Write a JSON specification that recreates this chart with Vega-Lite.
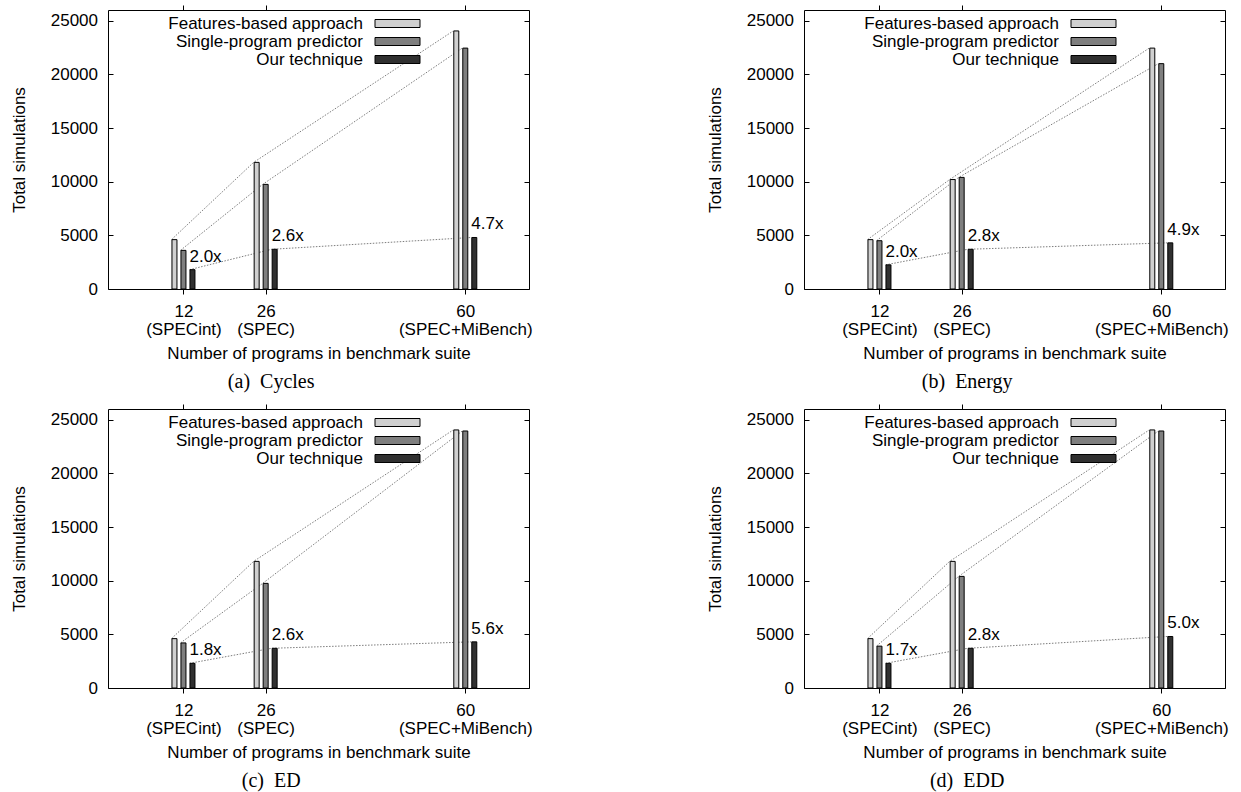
{
  "$schema": "https://vega.github.io/schema/vega-lite/v6.json",
  "autosize": {"type": "pad"},
  "padding": {"left": 9, "top": 4, "right": 5, "bottom": 5},
  "data": {"values": [
    {"panel": "a", "n": 12, "series": "Features-based approach", "value": 4600},
    {"panel": "a", "n": 12, "series": "Single-program predictor", "value": 3600},
    {"panel": "a", "n": 12, "series": "Our technique", "value": 1800, "label": "2.0x"},
    {"panel": "a", "n": 26, "series": "Features-based approach", "value": 11800},
    {"panel": "a", "n": 26, "series": "Single-program predictor", "value": 9750},
    {"panel": "a", "n": 26, "series": "Our technique", "value": 3700, "label": "2.6x"},
    {"panel": "a", "n": 60, "series": "Features-based approach", "value": 24050},
    {"panel": "a", "n": 60, "series": "Single-program predictor", "value": 22450},
    {"panel": "a", "n": 60, "series": "Our technique", "value": 4800, "label": "4.7x"},
    {"panel": "b", "n": 12, "series": "Features-based approach", "value": 4600},
    {"panel": "b", "n": 12, "series": "Single-program predictor", "value": 4500},
    {"panel": "b", "n": 12, "series": "Our technique", "value": 2250, "label": "2.0x"},
    {"panel": "b", "n": 26, "series": "Features-based approach", "value": 10200},
    {"panel": "b", "n": 26, "series": "Single-program predictor", "value": 10400},
    {"panel": "b", "n": 26, "series": "Our technique", "value": 3700, "label": "2.8x"},
    {"panel": "b", "n": 60, "series": "Features-based approach", "value": 22450},
    {"panel": "b", "n": 60, "series": "Single-program predictor", "value": 21000},
    {"panel": "b", "n": 60, "series": "Our technique", "value": 4300, "label": "4.9x"},
    {"panel": "c", "n": 12, "series": "Features-based approach", "value": 4600},
    {"panel": "c", "n": 12, "series": "Single-program predictor", "value": 4200},
    {"panel": "c", "n": 12, "series": "Our technique", "value": 2300, "label": "1.8x"},
    {"panel": "c", "n": 26, "series": "Features-based approach", "value": 11800},
    {"panel": "c", "n": 26, "series": "Single-program predictor", "value": 9750},
    {"panel": "c", "n": 26, "series": "Our technique", "value": 3700, "label": "2.6x"},
    {"panel": "c", "n": 60, "series": "Features-based approach", "value": 24050},
    {"panel": "c", "n": 60, "series": "Single-program predictor", "value": 23950},
    {"panel": "c", "n": 60, "series": "Our technique", "value": 4300, "label": "5.6x"},
    {"panel": "d", "n": 12, "series": "Features-based approach", "value": 4600},
    {"panel": "d", "n": 12, "series": "Single-program predictor", "value": 3900},
    {"panel": "d", "n": 12, "series": "Our technique", "value": 2300, "label": "1.7x"},
    {"panel": "d", "n": 26, "series": "Features-based approach", "value": 11800},
    {"panel": "d", "n": 26, "series": "Single-program predictor", "value": 10400},
    {"panel": "d", "n": 26, "series": "Our technique", "value": 3700, "label": "2.8x"},
    {"panel": "d", "n": 60, "series": "Features-based approach", "value": 24050},
    {"panel": "d", "n": 60, "series": "Single-program predictor", "value": 23950},
    {"panel": "d", "n": 60, "series": "Our technique", "value": 4800, "label": "5.0x"}
  ]},
  "columns": 2,
  "spacing": {"row": 120, "column": 275},
  "bounds": "flush",
  "resolve": {"scale": {"color": "independent"}, "legend": {"color": "independent"}},
  "concat": [
    {
      "width": 421, "height": 279,
      "title": {"text": "(a)\u00a0\u00a0Cycles"},
      "transform": [{"filter": "datum.panel == 'a'"}],
      "encoding": {
        "x": {"field": "n", "type": "quantitative", "scale": {"domain": [0, 70]}, "axis": null},
        "y": {"field": "value", "type": "quantitative", "scale": {"domain": [0, 26000]}, "axis": null}
      },
      "layer": [
        {"transform": [{"filter": "datum.series == 'Features-based approach'"}],
         "mark": {"type": "line", "xOffset": -12, "stroke": "#6e6e6e", "strokeWidth": 0.9, "strokeDash": [1.5, 1.5]},
         "encoding": {
           "x": {"field": "n", "type": "quantitative", "scale": {"domain": [0, 70]}, "axis": {"orient": "bottom", "values": [12, 26, 60], "labelExpr": "datum.value == 12 ? ['12', '(SPECint)'] : datum.value == 26 ? ['26', '(SPEC)'] : ['60', '(SPEC+MiBench)']", "title": "Number of programs in benchmark suite"}},
           "y": {"field": "value", "type": "quantitative", "scale": {"domain": [0, 26000]}, "axis": {"orient": "left", "values": [0, 5000, 10000, 15000, 20000, 25000], "format": "d", "title": "Total simulations"}}
         }},
        {"transform": [{"filter": "datum.series == 'Single-program predictor'"}],
         "mark": {"type": "line", "xOffset": -3, "stroke": "#6e6e6e", "strokeWidth": 0.9, "strokeDash": [1.5, 1.5]}},
        {"transform": [{"filter": "datum.series == 'Our technique'"}],
         "mark": {"type": "line", "xOffset": 6, "stroke": "#6e6e6e", "strokeWidth": 0.9, "strokeDash": [1.5, 1.5]}},
        {"transform": [{"filter": "datum.series == 'Features-based approach'"}],
         "mark": {"type": "bar", "width": 5, "xOffset": -9, "stroke": "#000", "strokeWidth": 1},
         "encoding": {
           "x": {"field": "n", "type": "quantitative", "scale": {"domain": [0, 70]}, "axis": {"orient": "top", "values": [12, 26, 60], "labels": false, "title": null}},
           "y": {"field": "value", "type": "quantitative", "stack": null, "scale": {"domain": [0, 26000]}, "axis": {"orient": "right", "values": [0, 5000, 10000, 15000, 20000, 25000], "labels": false, "title": null}},
           "color": {"field": "series", "type": "nominal", "scale": {"domain": ["Features-based approach", "Single-program predictor", "Our technique"], "range": ["#d0d0d0", "#7f7f7f", "#303030"]}, "legend": {"title": null}}
         }},
        {"transform": [{"filter": "datum.series == 'Single-program predictor'"}],
         "mark": {"type": "bar", "width": 5, "xOffset": 0, "stroke": "#000", "strokeWidth": 1},
         "encoding": {
           "y": {"field": "value", "type": "quantitative", "stack": null, "scale": {"domain": [0, 26000]}, "axis": null},
           "color": {"field": "series", "type": "nominal", "scale": {"domain": ["Features-based approach", "Single-program predictor", "Our technique"], "range": ["#d0d0d0", "#7f7f7f", "#303030"]}, "legend": {"title": null}}
         }},
        {"transform": [{"filter": "datum.series == 'Our technique'"}],
         "mark": {"type": "bar", "width": 5, "xOffset": 9, "stroke": "#000", "strokeWidth": 1},
         "encoding": {
           "y": {"field": "value", "type": "quantitative", "stack": null, "scale": {"domain": [0, 26000]}, "axis": null},
           "color": {"field": "series", "type": "nominal", "scale": {"domain": ["Features-based approach", "Single-program predictor", "Our technique"], "range": ["#d0d0d0", "#7f7f7f", "#303030"]}, "legend": {"title": null}}
         }},
        {"transform": [{"filter": "datum.series == 'Our technique'"}],
         "mark": {"type": "text", "xOffset": 6, "align": "left", "baseline": "alphabetic", "dy": -8, "fontSize": 17, "color": "#000"},
         "encoding": {"text": {"field": "label"}}}
      ],
      "resolve": {"axis": {"x": "independent", "y": "independent"}}
    },
    {
      "width": 421, "height": 279,
      "title": {"text": "(b)\u00a0\u00a0Energy"},
      "transform": [{"filter": "datum.panel == 'b'"}],
      "encoding": {
        "x": {"field": "n", "type": "quantitative", "scale": {"domain": [0, 70]}, "axis": null},
        "y": {"field": "value", "type": "quantitative", "scale": {"domain": [0, 26000]}, "axis": null}
      },
      "layer": [
        {"transform": [{"filter": "datum.series == 'Features-based approach'"}],
         "mark": {"type": "line", "xOffset": -12, "stroke": "#6e6e6e", "strokeWidth": 0.9, "strokeDash": [1.5, 1.5]},
         "encoding": {
           "x": {"field": "n", "type": "quantitative", "scale": {"domain": [0, 70]}, "axis": {"orient": "bottom", "values": [12, 26, 60], "labelExpr": "datum.value == 12 ? ['12', '(SPECint)'] : datum.value == 26 ? ['26', '(SPEC)'] : ['60', '(SPEC+MiBench)']", "title": "Number of programs in benchmark suite"}},
           "y": {"field": "value", "type": "quantitative", "scale": {"domain": [0, 26000]}, "axis": {"orient": "left", "values": [0, 5000, 10000, 15000, 20000, 25000], "format": "d", "title": "Total simulations"}}
         }},
        {"transform": [{"filter": "datum.series == 'Single-program predictor'"}],
         "mark": {"type": "line", "xOffset": -3, "stroke": "#6e6e6e", "strokeWidth": 0.9, "strokeDash": [1.5, 1.5]}},
        {"transform": [{"filter": "datum.series == 'Our technique'"}],
         "mark": {"type": "line", "xOffset": 6, "stroke": "#6e6e6e", "strokeWidth": 0.9, "strokeDash": [1.5, 1.5]}},
        {"transform": [{"filter": "datum.series == 'Features-based approach'"}],
         "mark": {"type": "bar", "width": 5, "xOffset": -9, "stroke": "#000", "strokeWidth": 1},
         "encoding": {
           "x": {"field": "n", "type": "quantitative", "scale": {"domain": [0, 70]}, "axis": {"orient": "top", "values": [12, 26, 60], "labels": false, "title": null}},
           "y": {"field": "value", "type": "quantitative", "stack": null, "scale": {"domain": [0, 26000]}, "axis": {"orient": "right", "values": [0, 5000, 10000, 15000, 20000, 25000], "labels": false, "title": null}},
           "color": {"field": "series", "type": "nominal", "scale": {"domain": ["Features-based approach", "Single-program predictor", "Our technique"], "range": ["#d0d0d0", "#7f7f7f", "#303030"]}, "legend": {"title": null}}
         }},
        {"transform": [{"filter": "datum.series == 'Single-program predictor'"}],
         "mark": {"type": "bar", "width": 5, "xOffset": 0, "stroke": "#000", "strokeWidth": 1},
         "encoding": {
           "y": {"field": "value", "type": "quantitative", "stack": null, "scale": {"domain": [0, 26000]}, "axis": null},
           "color": {"field": "series", "type": "nominal", "scale": {"domain": ["Features-based approach", "Single-program predictor", "Our technique"], "range": ["#d0d0d0", "#7f7f7f", "#303030"]}, "legend": {"title": null}}
         }},
        {"transform": [{"filter": "datum.series == 'Our technique'"}],
         "mark": {"type": "bar", "width": 5, "xOffset": 9, "stroke": "#000", "strokeWidth": 1},
         "encoding": {
           "y": {"field": "value", "type": "quantitative", "stack": null, "scale": {"domain": [0, 26000]}, "axis": null},
           "color": {"field": "series", "type": "nominal", "scale": {"domain": ["Features-based approach", "Single-program predictor", "Our technique"], "range": ["#d0d0d0", "#7f7f7f", "#303030"]}, "legend": {"title": null}}
         }},
        {"transform": [{"filter": "datum.series == 'Our technique'"}],
         "mark": {"type": "text", "xOffset": 6, "align": "left", "baseline": "alphabetic", "dy": -8, "fontSize": 17, "color": "#000"},
         "encoding": {"text": {"field": "label"}}}
      ],
      "resolve": {"axis": {"x": "independent", "y": "independent"}}
    },
    {
      "width": 421, "height": 279,
      "title": {"text": "(c)\u00a0\u00a0ED"},
      "transform": [{"filter": "datum.panel == 'c'"}],
      "encoding": {
        "x": {"field": "n", "type": "quantitative", "scale": {"domain": [0, 70]}, "axis": null},
        "y": {"field": "value", "type": "quantitative", "scale": {"domain": [0, 26000]}, "axis": null}
      },
      "layer": [
        {"transform": [{"filter": "datum.series == 'Features-based approach'"}],
         "mark": {"type": "line", "xOffset": -12, "stroke": "#6e6e6e", "strokeWidth": 0.9, "strokeDash": [1.5, 1.5]},
         "encoding": {
           "x": {"field": "n", "type": "quantitative", "scale": {"domain": [0, 70]}, "axis": {"orient": "bottom", "values": [12, 26, 60], "labelExpr": "datum.value == 12 ? ['12', '(SPECint)'] : datum.value == 26 ? ['26', '(SPEC)'] : ['60', '(SPEC+MiBench)']", "title": "Number of programs in benchmark suite"}},
           "y": {"field": "value", "type": "quantitative", "scale": {"domain": [0, 26000]}, "axis": {"orient": "left", "values": [0, 5000, 10000, 15000, 20000, 25000], "format": "d", "title": "Total simulations"}}
         }},
        {"transform": [{"filter": "datum.series == 'Single-program predictor'"}],
         "mark": {"type": "line", "xOffset": -3, "stroke": "#6e6e6e", "strokeWidth": 0.9, "strokeDash": [1.5, 1.5]}},
        {"transform": [{"filter": "datum.series == 'Our technique'"}],
         "mark": {"type": "line", "xOffset": 6, "stroke": "#6e6e6e", "strokeWidth": 0.9, "strokeDash": [1.5, 1.5]}},
        {"transform": [{"filter": "datum.series == 'Features-based approach'"}],
         "mark": {"type": "bar", "width": 5, "xOffset": -9, "stroke": "#000", "strokeWidth": 1},
         "encoding": {
           "x": {"field": "n", "type": "quantitative", "scale": {"domain": [0, 70]}, "axis": {"orient": "top", "values": [12, 26, 60], "labels": false, "title": null}},
           "y": {"field": "value", "type": "quantitative", "stack": null, "scale": {"domain": [0, 26000]}, "axis": {"orient": "right", "values": [0, 5000, 10000, 15000, 20000, 25000], "labels": false, "title": null}},
           "color": {"field": "series", "type": "nominal", "scale": {"domain": ["Features-based approach", "Single-program predictor", "Our technique"], "range": ["#d0d0d0", "#7f7f7f", "#303030"]}, "legend": {"title": null}}
         }},
        {"transform": [{"filter": "datum.series == 'Single-program predictor'"}],
         "mark": {"type": "bar", "width": 5, "xOffset": 0, "stroke": "#000", "strokeWidth": 1},
         "encoding": {
           "y": {"field": "value", "type": "quantitative", "stack": null, "scale": {"domain": [0, 26000]}, "axis": null},
           "color": {"field": "series", "type": "nominal", "scale": {"domain": ["Features-based approach", "Single-program predictor", "Our technique"], "range": ["#d0d0d0", "#7f7f7f", "#303030"]}, "legend": {"title": null}}
         }},
        {"transform": [{"filter": "datum.series == 'Our technique'"}],
         "mark": {"type": "bar", "width": 5, "xOffset": 9, "stroke": "#000", "strokeWidth": 1},
         "encoding": {
           "y": {"field": "value", "type": "quantitative", "stack": null, "scale": {"domain": [0, 26000]}, "axis": null},
           "color": {"field": "series", "type": "nominal", "scale": {"domain": ["Features-based approach", "Single-program predictor", "Our technique"], "range": ["#d0d0d0", "#7f7f7f", "#303030"]}, "legend": {"title": null}}
         }},
        {"transform": [{"filter": "datum.series == 'Our technique'"}],
         "mark": {"type": "text", "xOffset": 6, "align": "left", "baseline": "alphabetic", "dy": -8, "fontSize": 17, "color": "#000"},
         "encoding": {"text": {"field": "label"}}}
      ],
      "resolve": {"axis": {"x": "independent", "y": "independent"}}
    },
    {
      "width": 421, "height": 279,
      "title": {"text": "(d)\u00a0\u00a0EDD"},
      "transform": [{"filter": "datum.panel == 'd'"}],
      "encoding": {
        "x": {"field": "n", "type": "quantitative", "scale": {"domain": [0, 70]}, "axis": null},
        "y": {"field": "value", "type": "quantitative", "scale": {"domain": [0, 26000]}, "axis": null}
      },
      "layer": [
        {"transform": [{"filter": "datum.series == 'Features-based approach'"}],
         "mark": {"type": "line", "xOffset": -12, "stroke": "#6e6e6e", "strokeWidth": 0.9, "strokeDash": [1.5, 1.5]},
         "encoding": {
           "x": {"field": "n", "type": "quantitative", "scale": {"domain": [0, 70]}, "axis": {"orient": "bottom", "values": [12, 26, 60], "labelExpr": "datum.value == 12 ? ['12', '(SPECint)'] : datum.value == 26 ? ['26', '(SPEC)'] : ['60', '(SPEC+MiBench)']", "title": "Number of programs in benchmark suite"}},
           "y": {"field": "value", "type": "quantitative", "scale": {"domain": [0, 26000]}, "axis": {"orient": "left", "values": [0, 5000, 10000, 15000, 20000, 25000], "format": "d", "title": "Total simulations"}}
         }},
        {"transform": [{"filter": "datum.series == 'Single-program predictor'"}],
         "mark": {"type": "line", "xOffset": -3, "stroke": "#6e6e6e", "strokeWidth": 0.9, "strokeDash": [1.5, 1.5]}},
        {"transform": [{"filter": "datum.series == 'Our technique'"}],
         "mark": {"type": "line", "xOffset": 6, "stroke": "#6e6e6e", "strokeWidth": 0.9, "strokeDash": [1.5, 1.5]}},
        {"transform": [{"filter": "datum.series == 'Features-based approach'"}],
         "mark": {"type": "bar", "width": 5, "xOffset": -9, "stroke": "#000", "strokeWidth": 1},
         "encoding": {
           "x": {"field": "n", "type": "quantitative", "scale": {"domain": [0, 70]}, "axis": {"orient": "top", "values": [12, 26, 60], "labels": false, "title": null}},
           "y": {"field": "value", "type": "quantitative", "stack": null, "scale": {"domain": [0, 26000]}, "axis": {"orient": "right", "values": [0, 5000, 10000, 15000, 20000, 25000], "labels": false, "title": null}},
           "color": {"field": "series", "type": "nominal", "scale": {"domain": ["Features-based approach", "Single-program predictor", "Our technique"], "range": ["#d0d0d0", "#7f7f7f", "#303030"]}, "legend": {"title": null}}
         }},
        {"transform": [{"filter": "datum.series == 'Single-program predictor'"}],
         "mark": {"type": "bar", "width": 5, "xOffset": 0, "stroke": "#000", "strokeWidth": 1},
         "encoding": {
           "y": {"field": "value", "type": "quantitative", "stack": null, "scale": {"domain": [0, 26000]}, "axis": null},
           "color": {"field": "series", "type": "nominal", "scale": {"domain": ["Features-based approach", "Single-program predictor", "Our technique"], "range": ["#d0d0d0", "#7f7f7f", "#303030"]}, "legend": {"title": null}}
         }},
        {"transform": [{"filter": "datum.series == 'Our technique'"}],
         "mark": {"type": "bar", "width": 5, "xOffset": 9, "stroke": "#000", "strokeWidth": 1},
         "encoding": {
           "y": {"field": "value", "type": "quantitative", "stack": null, "scale": {"domain": [0, 26000]}, "axis": null},
           "color": {"field": "series", "type": "nominal", "scale": {"domain": ["Features-based approach", "Single-program predictor", "Our technique"], "range": ["#d0d0d0", "#7f7f7f", "#303030"]}, "legend": {"title": null}}
         }},
        {"transform": [{"filter": "datum.series == 'Our technique'"}],
         "mark": {"type": "text", "xOffset": 6, "align": "left", "baseline": "alphabetic", "dy": -8, "fontSize": 17, "color": "#000"},
         "encoding": {"text": {"field": "label"}}}
      ],
      "resolve": {"axis": {"x": "independent", "y": "independent"}}
    }
  ],
  "config": {
    "font": "Liberation Sans",
    "view": {"stroke": "#000", "strokeWidth": 1},
    "axis": {"domain": false, "grid": false, "labelFont": "Liberation Sans", "titleFont": "Liberation Sans", "labelFontSize": 17, "titleFontSize": 17, "titleFontWeight": "normal", "labelColor": "#000", "titleColor": "#000", "tickColor": "#000", "tickWidth": 1, "labelOverlap": false},
    "axisLeft": {"tickSize": -5, "labelPadding": 15.5, "titlePadding": 22},
    "axisRight": {"tickSize": -5},
    "axisBottom": {"tickSize": 5, "labelPadding": 9, "labelLineHeight": 18, "titlePadding": 8},
    "axisTop": {"tickSize": 5},
    "legend": {"orient": "none", "legendX": 281, "legendY": 5, "padding": 0, "symbolType": "M-5.625,-1H5.625V1H-5.625Z", "symbolSize": 64, "symbolStrokeColor": "#000", "symbolStrokeWidth": 1, "symbolOpacity": 1, "labelAlign": "right", "labelOffset": -43, "labelFontSize": 17, "labelFont": "Liberation Sans", "labelColor": "#000", "labelLimit": 400, "rowPadding": 0},
    "title": {"font": "Liberation Serif", "fontSize": 20, "fontWeight": "normal", "color": "#000", "orient": "bottom", "anchor": "middle", "frame": "bounds", "offset": 11}
  }
}
